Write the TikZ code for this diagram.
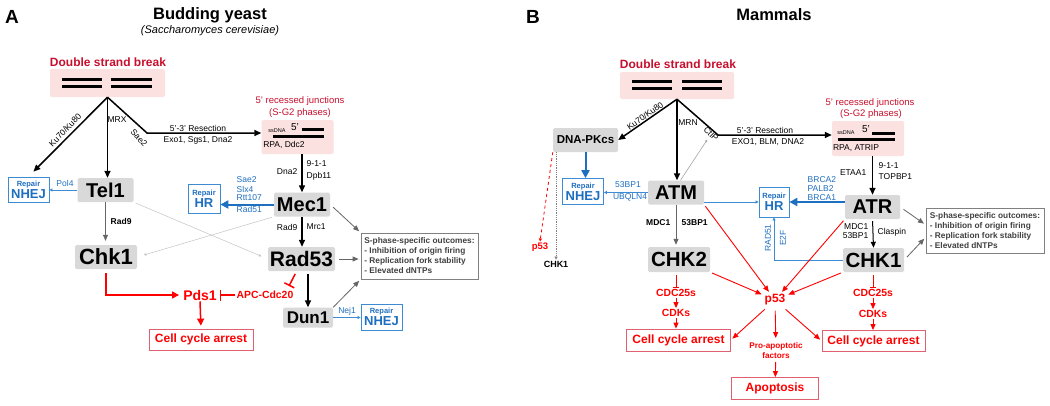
\documentclass[tikz,border=0pt]{standalone}
\usepackage{fontspec}
\setmainfont{Liberation Sans}
\usetikzlibrary{arrows.meta}

\definecolor{dsbred}{HTML}{C8102E}
\definecolor{sigred}{HTML}{FF0000}
\definecolor{cellred}{HTML}{E06070}
\definecolor{pinkbg}{HTML}{FCE1E1}
\definecolor{kingray}{HTML}{D9D9D9}
\definecolor{repblue}{HTML}{1F6FC0}
\definecolor{lineblue}{HTML}{3D8BD3}
\definecolor{outgray}{HTML}{404040}
\definecolor{crossgray}{HTML}{C4C4C4}

\newcommand{\fsz}[2]{\fontsize{#1}{#2}\selectfont}
\newcommand{\reptxt}[1]{\fsz{7.5}{9}Repair\\\fsz{13}{13}#1}

\tikzset{
	kinase/.style={fill=kingray, rounded corners=1.5pt, inner sep=0pt, font=\bfseries\fsz{20}{20}},
	pinkbox/.style={fill=pinkbg, rounded corners=1.5pt, inner sep=0pt},
	repair/.style={draw=lineblue, line width=0.8pt, text=repblue, inner sep=0pt, align=center, font=\bfseries},
	arrestbox/.style={draw=cellred, line width=0.8pt, text=sigred, inner sep=0pt, font=\bfseries\fsz{12}{12}},
	outbox/.style={draw=gray, line width=0.8pt, text=outgray, align=left, inner sep=0pt, font=\bfseries\fsz{8.3}{10}},
	lbl/.style={font=\fsz{8.5}{9}, inner sep=0.5pt},
	bluelbl/.style={lbl, text=repblue},
	redtxt/.style={text=sigred, inner sep=1pt},
	dsbtxt/.style={text=dsbred, font=\fsz{9.5}{10}},
	dna/.style={line width=3pt},
	main/.style={line width=1.5pt, -{Triangle[length=7pt,width=6pt]}},
	mid/.style={line width=1pt, -{Triangle[length=6pt,width=5pt]}},
	grayarr/.style={draw=outgray!80, line width=0.8pt, -{Triangle[length=6pt,width=5pt]}},
	faint/.style={draw=crossgray, line width=0.5pt, -{Triangle[length=2.5pt,width=2.5pt]}},
	bluethick/.style={draw=repblue, line width=2pt, -{Triangle[length=8pt,width=8pt]}},
	bluethin/.style={draw=lineblue, line width=0.8pt, -{Triangle[length=3pt,width=3pt]}},
	redthick/.style={draw=sigred, line width=1.5pt, -{Triangle[length=7pt,width=7pt]}},
	redthin/.style={draw=sigred, line width=0.9pt, -{Triangle[length=6pt,width=5pt]}},
	redblock/.style={draw=sigred, line width=1.5pt, -{Bar[width=11pt]}},
	redblocksm/.style={draw=sigred, line width=0.8pt, -{Bar[width=6pt]}}
}

\begin{document}
\begin{tikzpicture}[x=1pt, y=-1pt]
	\path[use as bounding box, fill=white] (0,0) rectangle (1050,405);

	% A: budding yeast
	\node[font=\bfseries\fsz{19}{19}] (labA) at (12,17) {A};
	\node[font=\bfseries\fsz{16.5}{17}] (ttlA) at (210,15) {Budding yeast};
	\node[font=\itshape\fsz{11}{11}] (subA) at (210,31) {(Saccharomyces cerevisiae)};

	\node[text=dsbred, font=\bfseries\fsz{12}{12}] (dsbtA) at (108,62) {Double strand break};
	\node[pinkbox, minimum width=115, minimum height=28] (dsbA) at (107.5,83) {};
	\draw[dna] (62,79) -- (102,79) (62,86) -- (102,86) (111,79) -- (152,79) (111,86) -- (152,86);
	\coordinate (apexA) at (dsbA.south);
	\coordinate (kneeA) at (147,133);
	\coordinate (radInh) at (289,286);

	\node[dsbtxt] (recA1) at (300,101) {5' recessed junctions};
	\node[dsbtxt] (recA2) at (300,113) {(S-G2 phases)};
	\node[pinkbox, minimum width=72, minimum height=34] (ssA) at (297.5,137) {};
	\node[font=\fsz{5.5}{6}, inner sep=0pt] (lssA) at (277,131) {ssDNA};
	\node[font=\fsz{10}{10}, inner sep=0pt] (l5A) at (295,127) {5'};
	\draw[dna] (302,129) -- (324,129) (273,136) -- (324,136);
	\node[lbl] (lRPA) at (284,145) {RPA, Ddc2};

	\node[repair, minimum width=41, minimum height=25] (nhejA) at (28.5,189.5) {\reptxt{NHEJ}};
	\node[kinase, minimum width=56, minimum height=24] (tel) at (105.5,190) {Tel1};
	\node[kinase, minimum width=56, minimum height=24] (mecA) at (302,204.5) {Mec1};
	\node[repair, minimum width=32, minimum height=29] (hrA) at (204,198.5) {\reptxt{HR}};
	\node[kinase, minimum width=62, minimum height=24, font=\bfseries\fsz{22}{22}] (chkA) at (106,257) {Chk1};
	\node[kinase, minimum width=67, minimum height=24, font=\bfseries\fsz{21}{21}] (radA) at (301.5,259) {Rad53};
	\node[kinase, minimum width=50, minimum height=20, font=\bfseries\fsz{17}{17}] (dun) at (308,317.5) {Dun1};
	\node[repair, minimum width=41, minimum height=26] (nhejA2) at (381.5,317) {\reptxt{NHEJ}};
	\node[outbox, minimum width=117, minimum height=46] (outA) at (419.5,256) {S-phase-specific outcomes:\\- Inhibition of origin firing\\- Replication fork stability\\- Elevated dNTPs};
	\node[redtxt, font=\bfseries\fsz{14}{14}] (pds) at (200,295) {Pds1};
	\node[redtxt, font=\bfseries\fsz{10.4}{11}] (apc) at (265,295) {APC-Cdc20};
	\node[arrestbox, minimum width=104, minimum height=21] (ccaA) at (201,339.5) {Cell cycle arrest};

	\draw[main, shorten >=7pt] (apexA) -- (nhejA.north);
	\node[lbl, rotate=46] (lKuA) at (65,130) {Ku70/Ku80};
	\draw[main] (apexA) -- (apexA |- tel.north);
	\node[lbl] (lMRX) at (117,120) {MRX};
	\draw[main] (apexA) -- (kneeA) -- (kneeA -| ssA.west);
	\node[lbl, rotate=-48] (lSae) at (139,138) {Sae2};
	\node[lbl] (lResA) at (198,128) {5'-3' Resection};
	\node[lbl] (lExoA) at (198,140) {Exo1, Sgs1, Dna2};

	\draw[main] (ssA.south -| mecA.north) -- (mecA.north);
	\node[lbl, anchor=east] (lDna2) at (298,172) {Dna2};
	\node[lbl, anchor=west] (l911A) at (306,164) {9-1-1};
	\node[lbl, anchor=west] (lDpb) at (306,176) {Dpb11};

	\draw[bluethick] (mecA.west) -- (mecA.west -| hrA.east);
	\node[bluelbl, anchor=west] (lSae2) at (236,180) {Sae2};
	\node[bluelbl, anchor=west] (lSlx4) at (236,189) {Slx4};
	\node[bluelbl, anchor=west] (lRtt) at (236,197.5) {Rtt107};
	\node[bluelbl, anchor=west] (lRad51) at (236,209.5) {Rad51};

	\draw[bluethin] (tel.west) -- (tel.west -| nhejA.east);
	\node[bluelbl] (lPol4) at (65,183) {Pol4};

	\draw[grayarr, line width=0.5pt, shorten >=4pt] (tel.south) -- (tel.south |- chkA.north);
	\node[lbl, anchor=west, font=\bfseries\fsz{8.5}{9}] (lRad9a) at (110,221) {Rad9};
	\draw[main] (mecA.south) -- (mecA.south |- radA.north);
	\node[lbl, anchor=east] (lRad9b) at (298,227) {Rad9};
	\node[lbl, anchor=west] (lMrc1) at (306,227) {Mrc1};

	\draw[faint, shorten <=2pt, shorten >=7pt] (tel.south east) -- (radA.west);
	\draw[faint, shorten <=2pt, shorten >=7pt] (mecA.south west) -- (chkA.east);

	\draw[grayarr, shorten <=4pt, shorten >=2pt] (mecA.east) -- (outA.north west);
	\draw[grayarr, shorten <=4pt, shorten >=2pt] (radA.east) -- (radA.east -| outA.west);
	\draw[grayarr, shorten >=2pt] (dun.north east) -- (outA.south west);

	\draw[main, shorten <=3pt] (radA.south -| dun.north) -- (dun.north);
	\draw[redblock, shorten <=3pt] (radA.-112) -- (radInh);
	\draw[redblock, shorten >=2pt] (apc.west) -- (pds.east);
	\draw[redthick, shorten <=4pt, shorten >=3pt] (chkA.south) |- (pds.west);
	\draw[redthick, shorten >=3pt] (pds.south) -- (ccaA.north);

	\draw[bluethin] (dun.east) -- (dun.east -| nhejA2.west);
	\node[bluelbl] (lNej1) at (347,311) {Nej1};

	% B: mammals
	\node[font=\bfseries\fsz{19}{19}] (labB) at (533,17) {B};
	\node[font=\bfseries\fsz{16.5}{17}] (ttlB) at (774,15) {Mammals};

	\node[text=dsbred, font=\bfseries\fsz{12}{12}] (dsbtB) at (678,64) {Double strand break};
	\node[pinkbox, minimum width=114, minimum height=27] (dsbB) at (677,85.5) {};
	\draw[dna] (632,81) -- (672,81) (632,88) -- (672,88) (682,81) -- (722,81) (682,88) -- (722,88);
	\coordinate (apexB) at (dsbB.south);
	\coordinate (kneeB) at (718,135);

	\node[dsbtxt] (recB1) at (870,103) {5' recessed junctions};
	\node[dsbtxt] (recB2) at (871,114) {(S-G2 phases)};
	\node[pinkbox, minimum width=72, minimum height=35] (ssB) at (868,138.5) {};
	\node[font=\fsz{5.5}{6}, inner sep=0pt] (lssB) at (846,133) {ssDNA};
	\node[font=\fsz{10}{10}, inner sep=0pt] (l5B) at (866,129) {5'};
	\draw[dna] (872,133) -- (895,133) (838,139) -- (895,139);
	\node[lbl] (lRPAB) at (856,148) {RPA, ATRIP};

	\node[kinase, minimum width=65, minimum height=24, font=\bfseries\fsz{11.5}{12}] (dnapk) at (585.5,140) {DNA-PKcs};
	\node[kinase, minimum width=56, minimum height=24] (atm) at (676,192.5) {ATM};
	\node[kinase, minimum width=55, minimum height=24] (atr) at (872.5,207) {ATR};
	\node[kinase, minimum width=62, minimum height=25, font=\bfseries\fsz{20.5}{21}] (chkTwo) at (679,259.5) {CHK2};
	\node[kinase, minimum width=61, minimum height=24, font=\bfseries\fsz{20.5}{21}] (chkB) at (873.5,260) {CHK1};
	\node[repair, minimum width=41, minimum height=26] (nhejB) at (583,191.5) {\reptxt{NHEJ}};
	\node[repair, minimum width=30, minimum height=30] (hrB) at (774,202) {\reptxt{HR}};
	\node[outbox, minimum width=118, minimum height=45] (outB) at (985,231) {S-phase-specific outcomes:\\- Inhibition of origin firing\\- Replication fork stability\\- Elevated dNTPs};
	\node[redtxt, font=\bfseries\fsz{9.5}{10}] (p53s) at (540,247) {p53};
	\node[font=\bfseries\fsz{9}{9}, inner sep=1pt] (chk1s) at (556,264) {CHK1};
	\node[redtxt, font=\bfseries\fsz{12}{12}] (p53) at (775,300) {p53};
	\node[redtxt, font=\bfseries\fsz{8.2}{10.5}, align=center] (pro) at (776,350.5) {Pro-apoptotic\\factors};
	\node[redtxt, font=\bfseries\fsz{10.4}{11}] (cdcA) at (676,293) {CDC25s};
	\node[redtxt, font=\bfseries\fsz{10.4}{11}] (cdkA) at (676,313) {CDKs};
	\node[redtxt, font=\bfseries\fsz{10.4}{11}] (cdcB) at (873,293) {CDC25s};
	\node[redtxt, font=\bfseries\fsz{10.4}{11}] (cdkB) at (873,314) {CDKs};
	\node[arrestbox, minimum width=104, minimum height=22] (ccaB1) at (678.5,340) {Cell cycle arrest};
	\node[arrestbox, minimum width=103, minimum height=21] (ccaB2) at (873.5,341) {Cell cycle arrest};
	\node[arrestbox, minimum width=87, minimum height=22] (apop) at (775,388.5) {Apoptosis};

	\draw[main] (apexB) -- (dnapk.east);
	\node[lbl, rotate=35] (lKuB) at (645,116) {Ku70/Ku80};
	\draw[main] (apexB) -- (apexB |- atm.north);
	\node[lbl] (lMRN) at (688,123) {MRN};
	\draw[main] (apexB) -- (kneeB) -- (kneeB -| ssB.west);
	\node[lbl, rotate=-45] (lCtIP) at (711,134) {CtIP};
	\draw[faint, draw=gray!70, line width=0.6pt, shorten >=3pt] (atm.70) -- (lCtIP);
	\node[lbl] (lResB) at (765,130) {5'-3' Resection};
	\node[lbl] (lExoB) at (768,142) {EXO1, BLM, DNA2};

	\draw[main] (ssB.south -| atr.north) -- (atr.north);
	\node[lbl, anchor=east] (lETAA) at (867,173) {ETAA1};
	\node[lbl, anchor=west] (l911B) at (878,166) {9-1-1};
	\node[lbl, anchor=west] (lTOP) at (878,177) {TOPBP1};

	\draw[bluethick] (dnapk.south) -- (dnapk.south |- nhejB.north);
	\draw[bluethin] (atm.west) -- (atm.west -| nhejB.east);
	\node[bluelbl] (l53a) at (628,185) {53BP1};
	\node[bluelbl] (lUBQ) at (630,197) {UBQLN4};
	\draw[sigred, line width=0.8pt, dashed, -{Triangle[length=3pt,width=3pt]}] (dnapk.south west) -- (p53s.north);
	\draw[gray, line width=0.8pt, densely dotted, -{Triangle[length=3pt,width=3pt]}] (chk1s.north |- dnapk.south) -- (chk1s.north);

	\draw[bluethin] (atm.east |- hrB.west) -- (hrB.west);
	\draw[bluethick] (atr.west |- hrB.east) -- (hrB.east);
	\node[bluelbl, anchor=west] (lBRCA2) at (807,180) {BRCA2};
	\node[bluelbl, anchor=west] (lPALB2) at (807,189) {PALB2};
	\node[bluelbl, anchor=west] (lBRCA1) at (807,197.5) {BRCA1};
	\draw[bluethin] (chkB.west) -| (hrB.south);
	\node[bluelbl, rotate=90] (lRAD51) at (768,238) {RAD51};
	\node[bluelbl, rotate=90] (lE2F) at (783,238) {E2F};

	\draw[mid, shorten <=2pt] (atr.south) -- (chkB.north);
	\node[lbl, anchor=east, align=right, font=\fsz{8.5}{9}] (lMDCb) at (869,231) {MDC1\\53BP1};
	\node[lbl, anchor=west] (lClasp) at (877,232) {Claspin};
	\draw[grayarr, shorten <=4pt, shorten >=2pt] (atr.east) -- (outB.174);
	\draw[grayarr, shorten <=4pt, shorten >=2pt] (chkB.east) -- (outB.186);

	\draw[mid, draw=outgray!80, shorten >=2pt] (atm.south) -- (atm.south |- chkTwo.north);
	\node[lbl, anchor=east, font=\bfseries\fsz{8.5}{9}] (lMDCa) at (671,223) {MDC1};
	\node[lbl, anchor=west, font=\bfseries\fsz{8.5}{9}] (l53c) at (681,223) {53BP1};

	\draw[redthin, shorten <=2pt, shorten >=2pt] (atm.south east) -- (p53);
	\draw[redthin, shorten <=2pt, shorten >=2pt] (chkTwo.south east) -- (p53);
	\draw[redthin, shorten <=2pt, shorten >=2pt] (atr.south west) -- (p53);
	\draw[redthin, shorten <=2pt, shorten >=2pt] (chkB.south west) -- (p53);
	\draw[redthin, shorten <=4pt, shorten >=2pt] (p53) -- (ccaB1.east);
	\draw[redthin, shorten <=4pt, shorten >=3pt] (p53) -- (pro);
	\draw[redthin, shorten <=2pt] (pro) -- (apop);
	\draw[redthin, shorten <=4pt, shorten >=2pt] (p53) -- (ccaB2.west);

	\draw[redblocksm, shorten <=3pt] (cdcA.north |- chkTwo.south) -- (cdcA.north);
	\draw[redthin] (cdcA) -- (cdkA);
	\draw[redthin] (cdkA.south) -- (cdkA.south |- ccaB1.north);
	\draw[redblocksm, shorten <=3pt] (cdcB.north |- chkB.south) -- (cdcB.north);
	\draw[redthin] (cdcB) -- (cdkB);
	\draw[redthin] (cdkB.south) -- (cdkB.south |- ccaB2.north);
\end{tikzpicture}
\end{document}
